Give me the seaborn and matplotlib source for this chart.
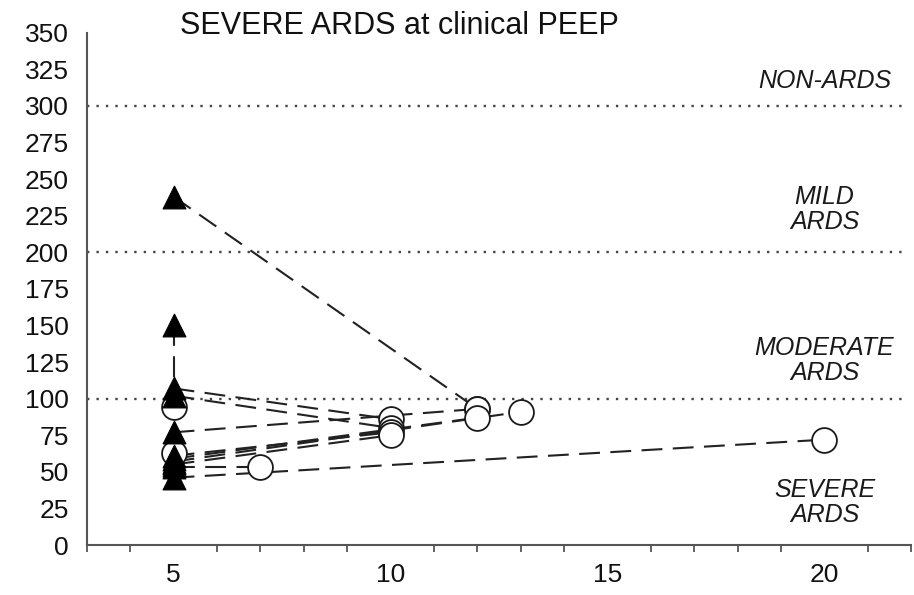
import matplotlib
matplotlib.use("Agg")
import matplotlib.pyplot as plt
from matplotlib.ticker import MultipleLocator
import numpy as np
import pandas as pd
import seaborn as sns

# PaO2/FiO2 at PEEP 5 (triangles) and at the clinical PEEP (circles), per patient
pf_peep5 = [238, 150, 107, 102, 77, 61, 59, 57, 56, 55, 53, 46]
clinical_peep = [12, 5, 10, 10, 12, 10, 12, 13, 5, 10, 7, 20]
pf_clinical = [93, 94, 86, 80, 93, 77, 87, 91, 63, 75, 53, 72]
low_peep = 5

# ARDS severity thresholds and their labels
thresholds = [100, 200, 300]
band_labels = ["SEVERE\nARDS", "MODERATE\nARDS", "MILD\nARDS", "NON-ARDS"]
band_label_y = [29, 126, 229, 317]

y_ticks = list(range(0, 351, 25))
x_ticks = [5, 10, 15, 20]

sns.set_theme(style="white")
plt.rcParams["font.family"] = ["Liberation Sans", "DejaVu Sans"]

n = len(pf_peep5)
patients = list(range(n))
long_df = pd.DataFrame({
    "patient": patients + patients,
    "peep": [low_peep] * n + clinical_peep,
    "pf": pf_peep5 + pf_clinical,
})
tri_df = pd.DataFrame({"peep": [low_peep] * n, "pf": pf_peep5})
circ_df = pd.DataFrame({"peep": clinical_peep, "pf": pf_clinical})

fig = plt.figure(figsize=(9.14, 5.95), dpi=100)
ax = fig.add_axes([0.095, 0.084, 0.902, 0.861])

line_col = "#222222"

# threshold lines
for t in thresholds:
    ax.plot([3, 21.85], [t, t], color="#444444", linewidth=1.7,
            linestyle=(0, (1, 3.0)), zorder=1)

# paired measurements joined per patient
sns.lineplot(data=long_df, x="peep", y="pf", units="patient", estimator=None,
             sort=False, color=line_col, linewidth=1.5, linestyle=(0, (10, 5)),
             ax=ax, zorder=2, legend=False)

sns.scatterplot(data=circ_df, x="peep", y="pf", marker="o", s=320,
                facecolor="white", edgecolor="#1a1a1a", linewidth=1.3,
                ax=ax, zorder=3)
sns.scatterplot(data=tri_df, x="peep", y="pf", marker="^", s=270,
                color="black", edgecolor="black", linewidth=0.8,
                ax=ax, zorder=4)

for lab, yy in zip(band_labels, band_label_y):
    ax.text(20, yy, lab, ha="center", va="center", style="italic",
            fontsize=18, color="#1a1a1a", linespacing=1.05)

ax.set_xlim(3, 22)
ax.set_ylim(0, 350)
ax.set_xticks(x_ticks)
ax.xaxis.set_minor_locator(MultipleLocator(1))
ax.set_yticks(y_ticks)
ax.set_xlabel("")
ax.set_ylabel("")

for side in ["top", "right"]:
    ax.spines[side].set_visible(False)
for side in ["left", "bottom"]:
    ax.spines[side].set_color("#555555")
    ax.spines[side].set_linewidth(1.5)

ax.tick_params(axis="both", which="major", direction="out", length=7,
               width=1.3, color="#555555", labelsize=19, labelcolor="#111111")
ax.tick_params(axis="x", which="major", pad=6)
ax.tick_params(axis="y", which="major", pad=6)
ax.tick_params(axis="x", which="minor", direction="out", length=5,
               width=1.3, color="#555555", bottom=True)

fig.text(0.197, 0.957, "SEVERE ARDS at clinical PEEP", fontsize=22,
         color="#111111", ha="left", va="center")

fig.savefig("out.png", dpi=100, facecolor="white")
